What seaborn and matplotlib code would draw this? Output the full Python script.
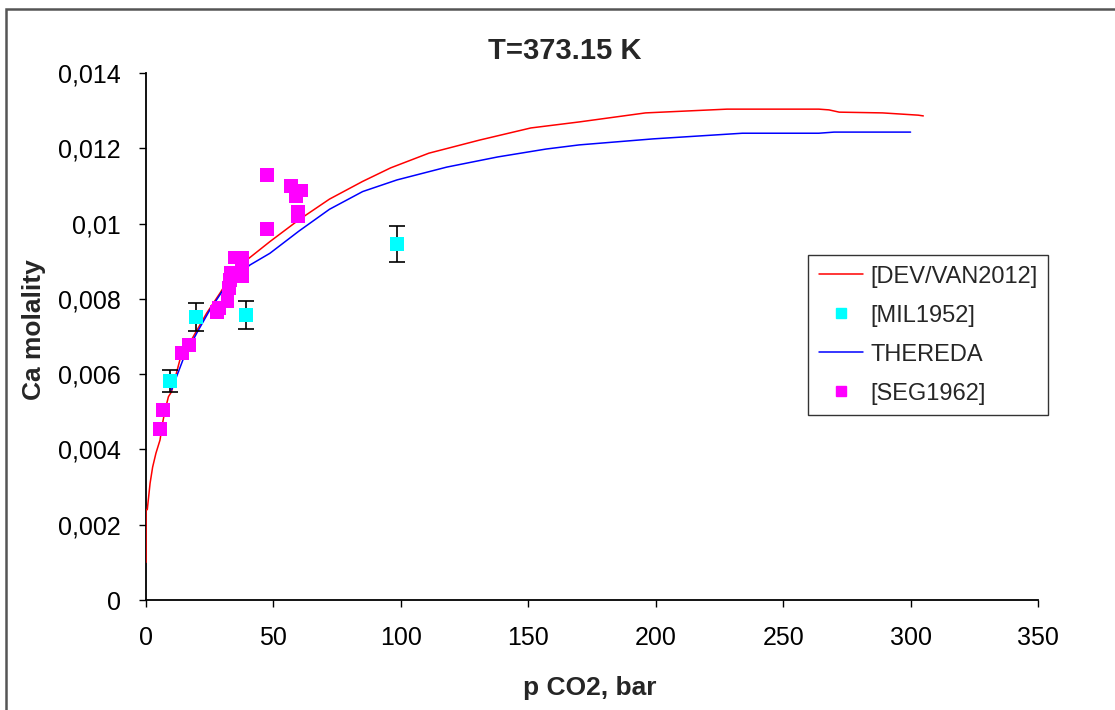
import matplotlib
matplotlib.use("Agg")
import matplotlib.pyplot as plt
import seaborn as sns
import pandas as pd
from matplotlib.lines import Line2D
from matplotlib.patches import Rectangle

# ---------------- data ----------------
title = "T=373.15 K"
x_label = "p CO2, bar"
y_label = "Ca molality"

devvan_x = [0, 0, 0.5, 1.6, 2.6, 3.9, 5.5, 6.5, 7.5, 8.8, 10, 13.3, 18.5, 23.8, 29, 33,
            39.5, 48.6, 60, 72, 85, 96, 111, 131, 151, 170, 196, 228, 264, 268, 272,
            289, 296, 303, 305]
devvan_y = [0.0010, 0.0024, 0.0024, 0.0031, 0.00353, 0.0039, 0.00425, 0.0047, 0.00505,
            0.0054, 0.00553, 0.00638, 0.00699, 0.00762, 0.00815, 0.00858, 0.00903,
            0.00952, 0.0101, 0.01065, 0.01112, 0.01148, 0.01187, 0.01222, 0.01254,
            0.0127, 0.01294, 0.01304, 0.01304, 0.01302, 0.01296, 0.01294, 0.01291,
            0.01288, 0.01286]

thereda_x = [10, 14.5, 19.9, 25, 30.3, 33.6, 40.8, 48.6, 60, 72, 85, 98.5, 118, 138, 157,
             170, 199, 234, 264, 270, 300]
thereda_y = [0.00558, 0.00638, 0.00709, 0.0077, 0.00824, 0.0085, 0.0089, 0.00921, 0.0098,
             0.01038, 0.01085, 0.01116, 0.0115, 0.01177, 0.01198, 0.01209, 0.01225,
             0.0124, 0.0124, 0.01243, 0.01243]

mil_x = [9.4, 19.6, 39.2, 98.5]
mil_y = [0.00582, 0.00752, 0.00757, 0.00946]
mil_err = [0.0003, 0.00038, 0.00038, 0.00047]

seg_x = [5.5, 6.8, 14.0, 16.8, 28.0, 28.5, 32.0, 32.5, 33.0, 33.5, 35.0, 37.5, 37.5,
         37.0, 37.5, 47.5, 47.5, 57.0, 59.0, 61.0, 59.5, 59.5]
seg_y = [0.00455, 0.00505, 0.00657, 0.00677, 0.00765, 0.00775, 0.00795, 0.0083, 0.0085,
         0.0087, 0.0091, 0.0091, 0.0089, 0.0087, 0.0086, 0.01128, 0.00985, 0.011,
         0.01072, 0.01088, 0.01032, 0.0102]

x_ticks = [0, 50, 100, 150, 200, 250, 300, 350]
y_ticks = [0, 0.002, 0.004, 0.006, 0.008, 0.01, 0.012, 0.014]
y_tick_labels = ["0", "0,002", "0,004", "0,006", "0,008", "0,01", "0,012", "0,014"]

legend_labels = ["[DEV/VAN2012]", "[MIL1952]", "THEREDA", "[SEG1962]"]

RED, BLUE, CYAN, MAGENTA = "#FF0000", "#0000FF", "#00FFFF", "#FF00FF"

# ---------------- figure ----------------
sns.set_theme(style="white")
plt.rcParams["font.family"] = ["Liberation Sans", "DejaVu Sans"]

fig = plt.figure(figsize=(11.15, 7.10), dpi=100)
ax = fig.add_axes([146 / 1115, 110 / 710, 892 / 1115, 527 / 710])

dev_df = pd.DataFrame({"x": devvan_x, "y": devvan_y})
the_df = pd.DataFrame({"x": thereda_x, "y": thereda_y})
mil_df = pd.DataFrame({"x": mil_x, "y": mil_y})
seg_df = pd.DataFrame({"x": seg_x, "y": seg_y})

sns.lineplot(data=dev_df, x="x", y="y", ax=ax, color=RED, lw=1.1, sort=False,
             estimator=None, zorder=2.7)
sns.lineplot(data=the_df, x="x", y="y", ax=ax, color=BLUE, lw=1.1, sort=False,
             estimator=None, zorder=2.7)

ax.errorbar(mil_x, mil_y, yerr=mil_err, fmt="none", ecolor="black", elinewidth=1.2,
            capsize=6, capthick=1.2, zorder=3)
sns.scatterplot(data=mil_df, x="x", y="y", ax=ax, marker="s", s=100, color=CYAN,
                edgecolor="none", linewidth=0, zorder=4)
sns.scatterplot(data=seg_df, x="x", y="y", ax=ax, marker="s", s=100, color=MAGENTA,
                edgecolor="none", linewidth=0, zorder=4)

ax.set_xlim(0, 350)
ax.set_ylim(0, 0.014)
ax.set_xticks(x_ticks)
ax.set_xticklabels([str(t) for t in x_ticks])
ax.set_yticks(y_ticks)
ax.set_yticklabels(y_tick_labels)

for s in ["top", "right"]:
    ax.spines[s].set_visible(False)
for s in ["left", "bottom"]:
    ax.spines[s].set_color("black")
    ax.spines[s].set_linewidth(1.3)

ax.tick_params(axis="both", which="major", direction="out", length=5, width=1,
               color="black", labelsize=18, labelcolor="black")
ax.tick_params(axis="y", pad=13)
ax.tick_params(axis="x", pad=14)
ax.tick_params(left=True, bottom=True)

ax.set_xlabel("")
ax.set_ylabel("")
fig.text(590 / 1115, 1 - 688 / 710, x_label, ha="center", va="center",
         fontsize=19, fontweight="bold")
fig.text(34 / 1115, 1 - 330 / 710, y_label, ha="center", va="center",
         rotation=90, fontsize=19, fontweight="bold")
fig.text(565 / 1115, 1 - 51 / 710, title, ha="center", va="center",
         fontsize=21, fontweight="bold")

handles = [
    Line2D([], [], color=RED, lw=1.1),
    Line2D([], [], color=CYAN, marker="s", ls="none", markersize=7),
    Line2D([], [], color=BLUE, lw=1.1),
    Line2D([], [], color=MAGENTA, marker="s", ls="none", markersize=7),
]
leg = ax.legend(handles, legend_labels, loc="upper left",
                bbox_to_anchor=((808 - 146) / 892, (600 - 255) / 527),
                fontsize=17, frameon=True, fancybox=False, shadow=False,
                borderpad=0.45, labelspacing=0.72, handlelength=1.9,
                handletextpad=0.3, borderaxespad=0)
leg.get_frame().set_edgecolor("black")
leg.get_frame().set_linewidth(1.0)
leg.get_frame().set_facecolor("white")

# outer chart frame
fig.patches.append(Rectangle((6 / 1115, -0.05), 1.2, 1 - 9 / 710 + 0.05,
                             transform=fig.transFigure, fill=False,
                             edgecolor="#555555", lw=1.8, zorder=0))

fig.savefig("out.png", dpi=100, facecolor="white")
